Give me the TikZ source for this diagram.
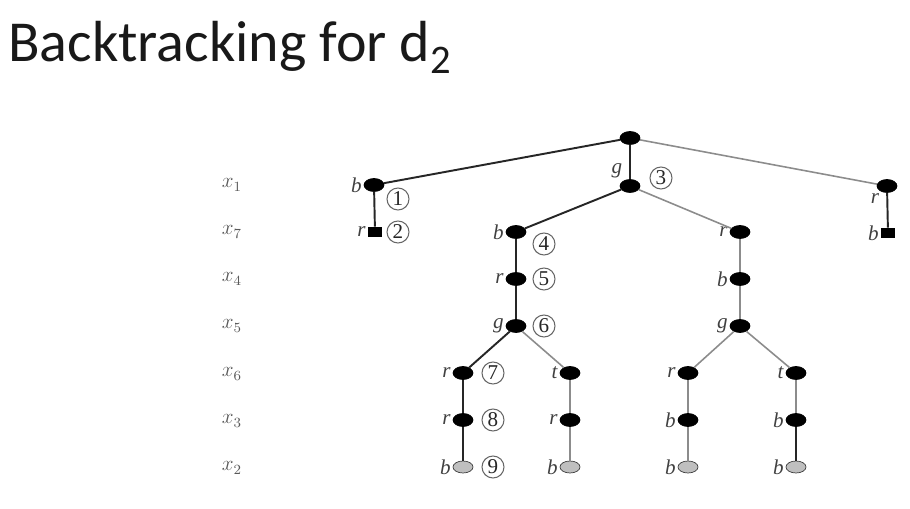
\documentclass[tikz,border=0pt]{standalone}
\usepackage{fontspec}
\setmainfont{Liberation Serif}
\newfontfamily\titlefont{Carlito}
\usetikzlibrary{shapes.geometric, positioning}

\begin{document}
\begin{tikzpicture}[x=0.02cm, y=-0.02cm, every node/.style={font=\normalsize},
    vtx/.style={ellipse, draw=black, fill=black, minimum width=0.4cm, minimum height=0.26cm, inner sep=0pt},
    deadend/.style={rectangle, fill=black, minimum width=0.28cm, minimum height=0.2cm, inner sep=0pt},
    leaf/.style={ellipse, draw=black!75, fill=black!25, minimum width=0.4cm, minimum height=0.24cm, inner sep=0pt},
    lab/.style={font=\large\itshape, text=black!75, inner sep=1pt},
    stepno/.style={circle, draw=black!60, line width=0.6pt, text=black!85, minimum size=0.44cm, inner sep=0pt, font=\large},
    rowlab/.style={text=black!65, font=\large},
    tried/.style={draw=black!85, line width=1.1pt},
    untried/.style={draw=black!45, line width=0.9pt}]
    \useasboundingbox (0,0) rectangle (910,509);
    \node[anchor=base west, inner sep=0pt, font=\titlefont\fontsize{33}{39}\selectfont, text=black!90] (title) at (8,62) {Backtracking for d\textsubscript{2}};

    % variable order
    \node[rowlab] (rx1) at (232,185) {$x_1$};
    \node[rowlab] (rx7) at (232,232) {$x_7$};
    \node[rowlab] (rx4) at (232,279) {$x_4$};
    \node[rowlab] (rx5) at (232,326) {$x_5$};
    \node[rowlab] (rx6) at (232,374) {$x_6$};
    \node[rowlab] (rx3) at (232,421) {$x_3$};
    \node[rowlab] (rx2) at (232,468) {$x_2$};

    \node[vtx] (root) at (630,138) {};
    \node[vtx, label={[lab]left:b}] (b1) at (374,185) {};
    \node[vtx, label={[lab]above left:g}] (g1) at (630,186) {};
    \node[vtx, label={[lab]below left:r}] (r1) at (887,186) {};
    \node[deadend, label={[lab]left:r}] (r7) at (375,232) {};
    \node[vtx, label={[lab]left:b}] (b7) at (516,232) {};
    \node[vtx, label={[lab]left:r}] (r7b) at (740,232) {};
    \node[deadend, label={[lab]left:b}] (b7b) at (888,233) {};
    \node[vtx, label={[lab]left:r}] (r4) at (516,279) {};
    \node[vtx, label={[lab]left:b}] (b4) at (740,279) {};
    \node[vtx, label={[lab]left:g}] (g5) at (516,326) {};
    \node[vtx, label={[lab]left:g}] (g5b) at (740,326) {};
    \node[vtx, label={[lab]left:r}] (r6) at (463,373) {};
    \node[vtx, label={[lab]left:t}] (t6) at (570,373) {};
    \node[vtx, label={[lab]left:r}] (r6b) at (688,373) {};
    \node[vtx, label={[lab]left:t}] (t6b) at (796,373) {};
    \node[vtx, label={[lab]left:r}] (r3) at (463,420) {};
    \node[vtx, label={[lab]left:r}] (r3b) at (570,420) {};
    \node[vtx, label={[lab]left:b}] (b3) at (688,420) {};
    \node[vtx, label={[lab]left:b}] (b3b) at (796,420) {};
    \node[leaf, label={[lab]left:b}] (b2) at (463,467) {};
    \node[leaf, label={[lab]left:b}] (b2b) at (570,467) {};
    \node[leaf, label={[lab]left:b}] (b2c) at (688,467) {};
    \node[leaf, label={[lab]left:b}] (b2d) at (796,467) {};

    \draw[tried] (root) -- (b1);
    \draw[tried] (root) -- (g1);
    \draw[untried] (root) -- (r1);
    \draw[tried] (b1) -- (r7);
    \draw[tried] (g1) -- (b7);
    \draw[untried] (g1) -- (r7b);
    \draw[tried] (r1) -- (b7b);
    \draw[tried] (b7) -- (r4);
    \draw[tried] (r4) -- (g5);
    \draw[untried] (r7b) -- (b4);
    \draw[untried] (b4) -- (g5b);
    \draw[tried] (g5) -- (r6);
    \draw[untried] (g5) -- (t6);
    \draw[untried] (g5b) -- (r6b);
    \draw[untried] (g5b) -- (t6b);
    \draw[tried] (r6) -- (r3);
    \draw[untried] (t6) -- (r3b);
    \draw[untried] (r6b) -- (b3);
    \draw[untried] (t6b) -- (b3b);
    \draw[tried] (r3) -- (b2);
    \draw[untried] (r3b) -- (b2b);
    \draw[untried] (b3) -- (b2c);
    \draw[tried] (b3b) -- (b2d);

    % search order
    \node[stepno] (s1) at (398,199) {1};
    \node[stepno] (s2) at (398,232) {2};
    \node[stepno] (s3) at (661,178) {3};
    \node[stepno] (s4) at (544,244) {4};
    \node[stepno] (s5) at (544,279) {5};
    \node[stepno] (s6) at (544,326) {6};
    \node[stepno] (s7) at (493,373) {7};
    \node[stepno] (s8) at (493,420) {8};
    \node[stepno] (s9) at (493,467) {9};
\end{tikzpicture}
\end{document}
